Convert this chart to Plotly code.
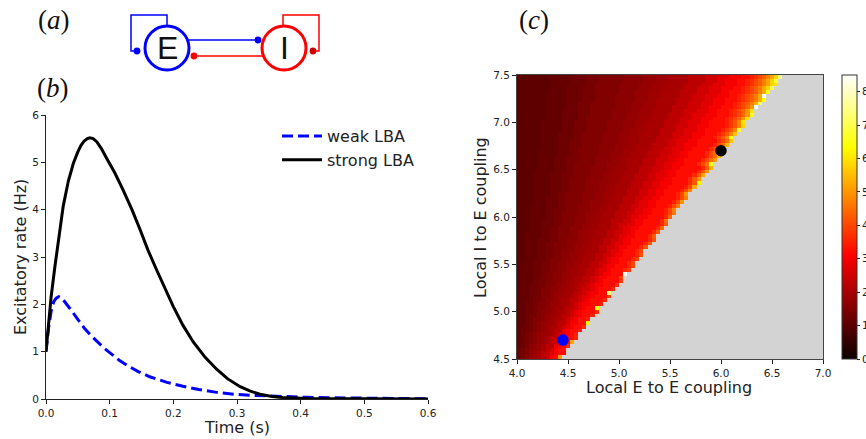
import numpy as np
import plotly.graph_objects as go

W, H = 866, 439
FONT = "DejaVu Sans"
INK = "#222222"

# ---- panel (b) curves
strong_t = [0, .004, .008, .014, .02, .027, .035, .043, .05, .055, .06, .065, .069, .074, .08, .087, .095, .108, .121, .135, .148, .16, .174,
            .187, .2, .215, .231, .25, .268, .285, .305, .32, .336, .355, .372, .41, .45, .5, .6]
strong_v = [1, 1.6, 2.15, 2.8, 3.4, 4.07, 4.6, 4.98, 5.22, 5.36, 5.45, 5.5, 5.52, 5.5, 5.43, 5.29, 5.09, 4.78, 4.42, 4.0, 3.57, 3.15, 2.72,
            2.32, 1.95, 1.56, 1.21, .88, .63, .43, .26, .17, .1, .055, .03, .01, .005, 0, 0]
weak_t = [0, .004, .008, .012, .016, .02, .025, .03, .04, .05, .06, .07, .08, .09, .1, .115, .13, .145, .163, .19,
          .215, .24, .268, .295, .32, .35, .372, .41, .45, .5, .55, .6]
weak_v = [1, 1.5, 1.85, 2.05, 2.13, 2.16, 2.13, 2.05, 1.87, 1.68, 1.5, 1.35, 1.21, 1.09, .98, .82, .69, .58, .47, .35,
          .27, .2, .14, .1, .08, .06, .05, .035, .025, .015, .008, .005]

# ---- panel (c) map, row 0 is the bottom row (E-E 4.0..7.0, I-E 4.5..7.5)
EE_START, EE_STEP = 4.0, 0.04
IE_START, IE_STEP = 4.5, 0.04
N_COLS = 75
# first grey column in each row
EDGE = [11,12,12,13,14,15,15,16,17,18,18,19,20,20,21,22,23,23,24,25,26,26,27,28,29,29,30,31,31,32,33,34,34,35,36,37,37,
        38,39,39,40,41,42,42,43,44,45,45,46,47,48,48,49,50,50,51,52,53,53,54,55,56,56,57,58,58,59,60,61,61,62,63,64,64,65]
# colour bands, and the column where each band after the first starts in each row
BAND_VALUES = [1.05,1.15,1.25,1.375,1.5,1.625,1.75,1.875,2.0,2.25,2.5,2.75,3.0,3.25]
BAND_STARTS = [
[0,0,1,2,3,3,4,5,6,7,8,8,9],[0,0,1,2,3,3,4,5,6,8,8,9,10],[0,0,1,2,3,4,5,6,7,8,9,9,10],[0,1,2,3,3,4,5,6,7,9,9,10,11],
[0,1,2,3,4,5,6,7,8,9,10,10,11],[0,1,2,3,4,5,6,7,8,10,10,11,12],[0,1,2,3,4,5,6,8,9,10,11,12,13],[0,1,3,4,5,6,7,8,9,11,11,12,13],
[0,1,3,4,5,6,7,8,10,11,12,13,14],[0,2,3,4,5,6,8,9,10,12,13,13,15],[0,2,3,4,6,7,8,9,11,12,13,14,15],[0,2,3,5,6,7,8,10,11,13,14,15,16],
[0,2,4,5,6,8,9,10,12,13,14,15,16],[0,2,4,5,7,8,9,11,12,14,15,16,17],[0,2,4,5,7,8,10,11,13,14,15,16,18],[0,3,4,6,7,9,10,11,13,15,16,17,18],
[0,3,4,6,8,9,10,12,14,15,16,18,19],[0,3,5,6,8,9,11,12,14,16,17,18,20],[0,3,5,6,8,10,11,13,15,16,18,19,20],[1,3,5,7,9,10,12,13,15,17,18,19,21],
[1,4,5,7,9,11,12,14,16,18,19,20,21],[1,4,6,7,9,11,13,14,16,18,19,20,22],[1,4,6,7,9,11,13,15,17,19,20,21,23],[1,4,6,8,10,12,13,15,17,19,20,22,23],
[1,4,6,8,10,12,14,15,18,20,21,22,24],[1,4,6,8,10,12,14,16,18,20,22,23,25],[2,5,7,8,11,13,15,16,19,21,22,23,25],[2,5,7,9,11,13,15,17,19,21,23,24,26],
[2,5,7,9,11,14,15,17,20,22,23,25,26],[2,5,7,9,12,14,16,18,20,22,24,25,27],[2,5,7,9,12,14,16,18,21,23,24,26,28],[2,5,8,10,12,15,17,18,21,23,25,26,28],
[2,6,8,10,13,15,17,19,22,24,25,27,29],[2,6,8,10,13,15,17,19,22,24,26,28,29],[3,6,8,10,13,16,18,20,23,25,26,28,30],[3,6,9,11,14,16,18,20,23,25,27,29,31],
[3,6,9,11,14,17,19,21,23,26,28,29,31],[3,7,9,11,14,17,19,21,24,27,28,30,32],[3,7,9,11,15,17,19,21,24,27,29,31,33],[3,7,9,12,15,18,20,22,25,28,29,31,33],
[3,7,10,12,15,18,20,22,25,28,30,32,34],[4,7,10,12,16,18,21,23,26,29,30,32,34],[4,7,10,12,16,19,21,23,26,29,31,33,35],[4,8,10,12,16,19,21,24,27,30,32,34,36],
[4,8,11,13,17,20,22,24,27,30,32,34,36],[4,8,11,13,17,20,22,24,28,31,33,35,37],[4,8,11,13,17,20,23,25,28,31,33,35,38],[4,8,11,13,17,21,23,25,29,32,34,36,38],
[4,8,11,14,18,21,23,26,29,32,34,37,39],[5,9,12,14,18,22,24,26,30,33,35,37,39],[5,9,12,14,18,22,24,27,30,33,36,38,40],[5,9,12,14,19,22,25,27,31,34,36,38,41],
[5,9,12,15,19,23,25,27,31,34,37,39,41],[5,9,12,15,19,23,25,28,32,35,37,40,42],[5,10,13,15,20,23,26,28,32,35,38,40,42],[5,10,13,15,20,24,26,29,33,36,38,41,43],
[6,10,13,16,20,24,27,29,33,37,39,41,44],[6,10,13,16,21,25,27,30,34,37,39,42,44],[6,10,14,16,21,25,27,30,34,38,40,43,45],[6,10,14,16,21,25,28,30,35,38,41,43,46],
[6,11,14,17,22,26,28,31,35,39,41,44,46],[6,11,14,17,22,26,29,31,36,39,42,44,47],[6,11,14,17,22,26,29,32,36,40,42,45,47],[7,11,15,17,23,27,30,32,37,40,43,45,48],
[7,11,15,18,23,27,30,33,37,41,43,46,49],[7,11,15,18,23,28,30,33,38,41,44,47,49],[7,12,15,18,24,28,31,34,38,42,45,47,50],[7,12,15,18,24,28,31,34,39,42,45,48,51],
[7,12,16,19,24,29,32,34,39,43,46,48,51],[7,12,16,19,24,29,32,35,40,43,46,49,52],[7,12,16,19,25,29,32,35,40,44,47,50,52],[8,12,16,19,25,30,33,36,41,44,47,50,53],
[8,13,17,19,25,30,33,36,41,45,48,51,54],[8,13,17,20,26,31,34,37,42,46,49,51,54],[8,13,17,20,26,31,34,37,42,46,49,52,55]]
# values of the last cells before the grey edge in each row
EDGE_CELLS = [
[5],[3.2],[3.4],[3.6],[5.2],[3.6],[3.5],[3.5],[3.6],[6.2],[3.5],[3.6],[3.7],[6.4],[3.5],[3.6],[3.8],[7.3],[3.6],[3.7],[3.8],[4],[8.4],
[3.6,3.8],[3.6,4],[3.6,4],[3.6,3.9],[3.6,4.1],[3.6,4],[3.6,4.2],[3.6,4.2],[3.6,4.1],[3.6,4.3],[3.6,4.2],[3.6,4.4],[3.6,4.3],[3.6,4.5],[3.6,4.4],
[3.5,4,4.6],[3.5,4,4.8],[3.5,4,4.6],[3.5,4,5],[3.5,4,4.7],[3.5,4,5],[3.5,4,4.8],[3.5,4,5.2],[3.6,4.2,6.2],[3.6,4.2,5],[3.6,4.2,5.2],[3.6,4.2,5],
[3.6,4.3,5.4],[3.6,4,4.5,6.5],[3.6,4,4.5,5],[3.6,4,4.5,5.4],[3.6,4,4.5,5.2],[3.6,4,4.5,6.3],[3.6,4,4.5,5.4],[3.6,4,4.5,5.6],
[3.5,3.8,4.2,4.8,6.6],[3.5,3.8,4.2,4.8,5.6],[3.5,3.8,4.2,4.8,6.8],[3.5,3.8,4.2,4.8,5.8],[3.5,3.8,4.2,4.8,6],
[3.5,3.7,4,4.4,5,6],[3.5,3.7,4,4.4,5,6.5],[3.5,3.7,4,4.4,5,6],[3.5,3.7,4,4.4,5,8.4],
[3.5,3.7,4,4.3,4.7,5.3,7],[3.5,3.7,4,4.3,4.7,5.3,6.5],[3.5,3.7,4,4.3,4.7,5.3,8.4],[3.5,3.7,4,4.3,4.7,5.3,6.5],
[3.5,3.7,4,4.3,4.7,5.2,5.8,7],[3.5,3.7,4,4.3,4.7,5.2,5.8,6],[3.5,3.7,4,4.3,4.7,5.2,5.8,6.8],[3.5,3.7,4,4.3,4.7,5.2,5.8,7.5]]
marker_black = (6.0, 6.7)
marker_blue = (4.45, 4.7)
HOT = [[0, "rgb(11,0,0)"], [0.365, "rgb(255,0,0)"], [0.746, "rgb(255,255,0)"], [1, "rgb(255,255,255)"]]

z = np.full((len(EDGE), N_COLS), np.nan)
for row, edge in enumerate(EDGE):
    starts = [0] + BAND_STARTS[row]
    for band, start in enumerate(starts):
        z[row, start:edge] = BAND_VALUES[band]
    tail = EDGE_CELLS[row]
    z[row, edge - len(tail):edge] = tail

def px(x): return x / W
def py(y): return 1 - y / H

fig = go.Figure()
fig.add_trace(go.Scatter(x=weak_t, y=weak_v, mode="lines", name="weak LBA", xaxis="x", yaxis="y",
                         line=dict(color="#0000ff", width=3, dash="11px,5px")))
fig.add_trace(go.Scatter(x=strong_t, y=strong_v, mode="lines", name="strong LBA", xaxis="x", yaxis="y",
                         line=dict(color="#000000", width=3)))
fig.add_trace(go.Heatmap(z=z, x0=EE_START + EE_STEP / 2, dx=EE_STEP, y0=IE_START + IE_STEP / 2, dy=IE_STEP,
                         xaxis="x2", yaxis="y2", colorscale=HOT, zmin=0, zmax=8.5, showlegend=False, hoverongaps=False,
                         colorbar=dict(thickness=15, thicknessmode="pixels", len=284 / H, lenmode="fraction",
                                       x=px(842), xanchor="left", xpad=0, ypad=0, y=py(217), yanchor="middle",
                                       tickvals=list(range(9)), ticks="outside", ticklen=3, tickcolor=INK,
                                       tickfont=dict(family=FONT, size=10.5, color=INK),
                                       outlinecolor="#333333", outlinewidth=1)))
for (mx, my), colour in ((marker_black, "#000000"), (marker_blue, "#0000ff")):
    fig.add_trace(go.Scatter(x=[mx], y=[my], mode="markers", xaxis="x2", yaxis="y2", showlegend=False,
                             marker=dict(color=colour, size=11.5, line=dict(width=0))))

shapes = [dict(type="rect", xref="x2 domain", yref="y2 domain", x0=0, x1=1, y0=0, y1=1,
               fillcolor="#d3d3d3", line=dict(width=0), layer="below")]
def poly(points, colour, width=1.5):
    path = "M " + " L ".join(f"{px(a):.5f},{py(b):.5f}" for a, b in points)
    shapes.append(dict(type="path", xref="paper", yref="paper", path=path, line=dict(color=colour, width=width), layer="above"))
def circle(cx, cy, r, colour, width=0, fill=None):
    shapes.append(dict(type="circle", xref="paper", yref="paper", x0=px(cx - r), x1=px(cx + r), y0=py(cy + r), y1=py(cy - r),
                       line=dict(color=colour, width=width), fillcolor=fill or "rgba(0,0,0,0)", layer="above"))
BLUE, RED = "#0000ff", "#ff0000"
poly([(167, 25), (167, 15), (131, 15), (131, 51), (137, 51)], BLUE)
poly([(283, 25), (283, 15), (319, 15), (319, 51), (313, 51)], RED)
poly([(189, 40), (258, 40)], BLUE)
poly([(262, 56), (194, 56)], RED)
circle(167, 48, 22, BLUE, 3)
circle(284, 48, 22, RED, 3)
circle(137, 51, 3.4, BLUE, 0, BLUE)
circle(258, 40, 3.4, BLUE, 0, BLUE)
circle(194, 56, 3.4, RED, 0, RED)
circle(313, 51, 3.4, "#c00000", 0, "#c80000")

def note(text, x, y, size, family, colour="#111111", angle=0):
    return dict(text=text, xref="paper", yref="paper", x=px(x), y=py(y), xanchor="center", yanchor="middle", showarrow=False,
                textangle=angle, font=dict(family=family, size=size, color=colour))
annotations = [
    note("(<i>a</i>)", 54, 20, 27, "Liberation Serif"),
    note("(<i>b</i>)", 53, 88, 27, "Liberation Serif"),
    note("(<i>c</i>)", 534, 20, 27, "Liberation Serif"),
    note("E", 167, 48, 32, "Liberation Sans"),
    note("I", 284, 48, 32, "Liberation Sans"),
    note("Time (s)", 237, 427, 16, FONT, INK),
    note("Excitatory rate (Hz)", 20, 257, 16, FONT, INK, -90),
    note("Local E to E coupling", 669, 387, 16, FONT, INK),
    note("Local I to E coupling", 480, 217, 16, FONT, INK, -90),
]

tick = dict(ticks="outside", ticklen=4, tickcolor=INK, tickwidth=1, tickfont=dict(family=FONT, size=10.5, color=INK),
            showgrid=False, zeroline=False, automargin=False)
fig.update_layout(
    template="none",
    width=W, height=H, margin=dict(l=0, r=0, t=0, b=0, pad=0, autoexpand=False), paper_bgcolor="white", plot_bgcolor="white",
    font=dict(family=FONT, color=INK), shapes=shapes, annotations=annotations,
    xaxis=dict(domain=[px(46), px(428)], range=[0, 0.6], tickvals=[0, .1, .2, .3, .4, .5, .6], tickformat=".1f",
               showline=True, linecolor=INK, anchor="y", **tick),
    yaxis=dict(domain=[py(399), py(115)], range=[0, 6], tickvals=[0, 1, 2, 3, 4, 5, 6], showline=True, linecolor=INK, anchor="x", **tick),
    xaxis2=dict(domain=[px(517), px(823)], range=[4, 7], tickvals=[4, 4.5, 5, 5.5, 6, 6.5, 7], tickformat=".1f",
                showline=True, mirror=True, linecolor="#444444", anchor="y2", **tick),
    yaxis2=dict(domain=[py(359), py(75)], range=[4.5, 7.5], tickvals=[4.5, 5, 5.5, 6, 6.5, 7, 7.5], tickformat=".1f",
                showline=True, mirror=True, linecolor="#444444", anchor="x2", **tick),
    legend=dict(x=px(277), y=py(119), xanchor="left", yanchor="top", font=dict(family=FONT, size=16, color=INK),
                bgcolor="rgba(0,0,0,0)", itemwidth=40, tracegroupgap=0),
)
fig.write_html("out.html", config=dict(displayModeBar=False),
               post_script="document.body.style.margin='0';document.body.style.overflow='hidden';")
